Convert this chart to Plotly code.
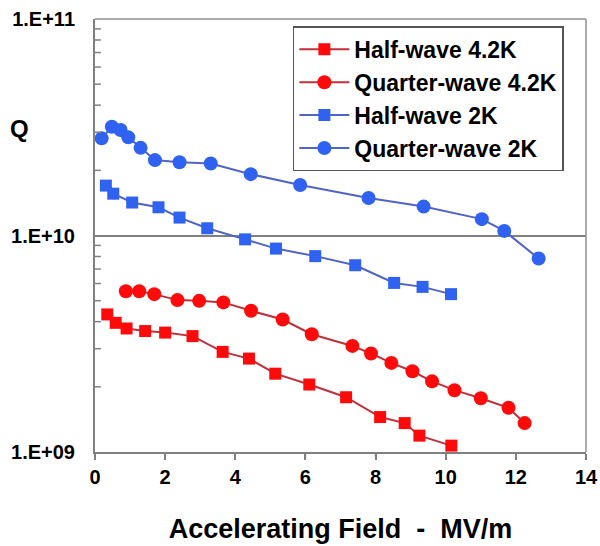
import plotly.graph_objects as go

# Data (Accelerating field MV/m, Q)
hw42_x = [0.35, 0.59, 0.90, 1.43, 2.00, 2.78, 3.64, 4.39, 5.14, 6.11, 7.16, 8.13, 8.83, 9.25, 10.16]
hw42_q = [4.32e9, 3.95e9, 3.72e9, 3.62e9, 3.56e9, 3.43e9, 2.90e9, 2.70e9, 2.30e9, 2.05e9, 1.79e9, 1.45e9, 1.36e9, 1.19e9, 1.07e9]

qw42_x = [0.88, 1.26, 1.69, 2.35, 2.97, 3.66, 4.45, 5.35, 6.18, 7.34, 7.87, 8.45, 9.05, 9.61, 10.25, 11.00, 11.79, 12.25]
qw42_q = [5.53e9, 5.53e9, 5.36e9, 5.03e9, 4.99e9, 4.91e9, 4.49e9, 4.09e9, 3.50e9, 3.09e9, 2.85e9, 2.58e9, 2.36e9, 2.12e9, 1.93e9, 1.77e9, 1.60e9, 1.36e9]

hw2_x = [0.31, 0.52, 1.06, 1.81, 2.41, 3.20, 4.28, 5.16, 6.28, 7.42, 8.53, 9.34, 10.15]
hw2_q = [1.70e10, 1.56e10, 1.42e10, 1.35e10, 1.21e10, 1.08e10, 9.6e9, 8.7e9, 8.03e9, 7.29e9, 6.04e9, 5.79e9, 5.36e9]

qw2_x = [0.19, 0.48, 0.73, 0.95, 1.30, 1.71, 2.41, 3.30, 4.44, 5.85, 7.80, 9.37, 11.03, 11.67, 12.65]
qw2_q = [2.81e10, 3.18e10, 3.07e10, 2.84e10, 2.54e10, 2.23e10, 2.18e10, 2.15e10, 1.92e10, 1.71e10, 1.49e10, 1.36e10, 1.19e10, 1.05e10, 7.83e9]

series_names = ["Half-wave 4.2K", "Quarter-wave 4.2K", "Half-wave 2K", "Quarter-wave 2K"]
x_ticks = [0, 2, 4, 6, 8, 10, 12, 14]
y_tickvals = [1e9, 1e10, 1e11]
y_ticktext = ["1.E+09", "1.E+10", "1.E+11"]
y_minor = [m * 10 ** e for e in (9, 10) for m in range(2, 10)]

RED = "#ff0a0a"
RED_LINE = "#c0303a"
BLUE = "#2f62f0"
BLUE_LINE = "#5064c8"
TICK = "#808080"
FONT = "Liberation Sans"

fig = go.Figure()
specs = [
    (hw42_x, hw42_q, series_names[0], "square", RED, RED_LINE),
    (qw42_x, qw42_q, series_names[1], "circle", RED, RED_LINE),
    (hw2_x, hw2_q, series_names[2], "square", BLUE, BLUE_LINE),
    (qw2_x, qw2_q, series_names[3], "circle", BLUE, BLUE_LINE),
]
for x, y, name, sym, mc, lc in specs:
    fig.add_trace(go.Scatter(
        x=x, y=y, name=name, mode="lines+markers",
        line=dict(color=lc, width=2),
        marker=dict(symbol=sym, size=14 if sym == "circle" else 12, color=mc, line=dict(width=0)),
    ))

# frame (top/right) plus tick marks drawn as axis-referenced shapes
shapes = [
    dict(type="line", xref="paper", yref="paper", x0=0, x1=1, y0=1, y1=1,
         line=dict(color="#909090", width=1.5)),
    dict(type="line", xref="paper", yref="paper", x0=1, x1=1, y0=0, y1=1,
         line=dict(color="#909090", width=1.5)),
]
for v in y_minor:
    shapes.append(dict(type="line", xref="paper", yref="y", x0=0, x1=0.012, y0=v, y1=v,
                       line=dict(color=TICK, width=1.5)))
for v in x_ticks:
    shapes.append(dict(type="line", xref="x", yref="paper", x0=v, x1=v, y0=0, y1=-0.013,
                       line=dict(color=TICK, width=1.5)))

fig.update_layout(
    width=600, height=546,
    margin=dict(l=95, r=14, t=19, b=94, autoexpand=False),
    paper_bgcolor="white", plot_bgcolor="white",
    font=dict(family=FONT, color="black"),
    showlegend=True,
    legend=dict(
        x=0.403, y=0.983, xanchor="left", yanchor="top",
        bgcolor="white", bordercolor="#555555", borderwidth=1.5,
        font=dict(family=FONT, size=23, color="black", weight="bold"),
        itemwidth=50, tracegroupgap=0,
    ),
    xaxis=dict(
        range=[0, 14], tickmode="array", tickvals=x_ticks,
        ticktext=[f"<b>{t}</b>" for t in x_ticks],
        ticks="outside", ticklen=6, tickwidth=1.5, tickcolor=TICK,
        showline=True, linecolor="#808080", linewidth=2, mirror=False,
        showgrid=False, zeroline=False, automargin=False,
        tickfont=dict(family=FONT, size=20, color="black", weight="bold"),
        title=dict(text="<b>Accelerating Field  -  MV/m</b>", standoff=32,
                   font=dict(family=FONT, size=27, color="black")),
    ),
    yaxis=dict(
        type="log", range=[9, 11], tickmode="array", tickvals=y_tickvals,
        ticktext=[f"<b>{t}</b>" for t in y_ticktext],
        ticks="", showline=True, linecolor="#808080", linewidth=2,
        showgrid=True, gridcolor="#808080", gridwidth=1.5,
        zeroline=False, automargin=False, ticklabelstandoff=14,
        tickfont=dict(family=FONT, size=20, color="black", weight="bold"),
    ),
    shapes=shapes,
    annotations=[
        dict(text="<b>Q</b>", xref="paper", yref="paper", x=-0.153, y=0.746, showarrow=False,
             xanchor="center", yanchor="middle",
             font=dict(family=FONT, size=24, color="black")),
    ],
)

fig.write_html("out.html")
